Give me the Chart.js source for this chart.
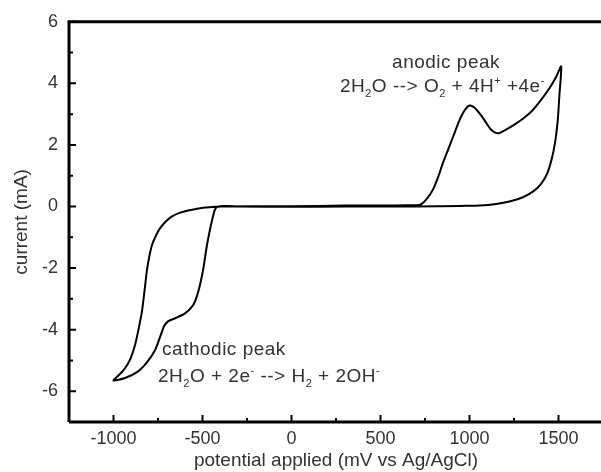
<!DOCTYPE html>
<html>
<head>
<meta charset="utf-8">
<script src="https://cdn.jsdelivr.net/npm/chart.js@4"></script>
<style>
  html, body { margin: 0; padding: 0; background: #fff; overflow: hidden; }
  #wrap { width: 620px; height: 472px; }
</style>
</head>
<body>
<div id="wrap"><canvas id="cvChart"></canvas></div>
<script>
// Cyclic voltammogram, potential (mV vs Ag/AgCl) and current (mA), traced along the loop
const potential = [
  -400, 0, 300, 500, 650, 700, 730, 760, 790, 820, 850, 880, 910, 940, 965, 990, 1005,
  1030, 1060, 1090, 1120, 1145, 1165, 1200, 1250, 1300, 1350, 1400, 1450, 1490, 1515,
  1505, 1495, 1480, 1460, 1435, 1400, 1360, 1300, 1230, 1150, 1060, 950, 700, 300, 0, -300, -420,
  -447, -475, -497, -525, -553, -598, -654, -694, -716, -739, -767, -812, -868, -935, -1000,
  -965, -935, -905, -879, -858, -840, -825, -812, -798, -784, -762, -739, -705, -671, -625, -581, -530, -486, -430, -400
];
const current = [
  0, 0.01, 0.03, 0.03, 0.04, 0.04, 0.08, 0.25, 0.5, 0.9, 1.4, 1.85, 2.3, 2.75, 3.05, 3.25, 3.28,
  3.2, 3.0, 2.75, 2.5, 2.4, 2.38, 2.48, 2.65, 2.85, 3.1, 3.45, 3.85, 4.25, 4.55,
  3.6, 2.75, 2.05, 1.5, 1.05, 0.72, 0.5, 0.3, 0.17, 0.08, 0.03, 0.02, 0.0, 0.0, -0.01, 0, -0.02,
  -0.47, -1.26, -2.07, -2.79, -3.21, -3.47, -3.63, -3.73, -3.89, -4.25, -4.67, -5.06, -5.38, -5.57, -5.65,
  -5.45, -5.25, -4.95, -4.5, -3.95, -3.4, -2.7, -2.07, -1.6, -1.26, -0.95, -0.71, -0.48, -0.32, -0.2, -0.13, -0.07, -0.03, -0.01, 0
];

// Axis ticks
const xMajor = [-1000, -500, 0, 500, 1000, 1500];
const xMinor = [-750, -250, 250, 750, 1250];
const yMajor = [-6, -4, -2, 0, 2, 4, 6];
const yMinor = [-5, -3, -1, 1, 3, 5];

const points = potential.map((v, i) => ({ x: v, y: current[i] }));

const textColor = "#333";
const fontFamily = "'Liberation Sans', Arial, sans-serif";

// Frame (left, top, bottom) with inward ticks
const framePlugin = {
  id: "frame",
  afterDraw(chart) {
    const { ctx, chartArea: a, scales } = chart;
    ctx.save();
    ctx.strokeStyle = "#000";
    ctx.lineWidth = 3;
    ctx.beginPath();
    ctx.moveTo(a.left, a.bottom);
    ctx.lineTo(a.left, a.top);
    ctx.lineTo(a.right + 20, a.top);
    ctx.moveTo(a.left, a.bottom);
    ctx.lineTo(a.right + 20, a.bottom);
    ctx.stroke();

    ctx.lineWidth = 2;
    ctx.beginPath();
    xMajor.forEach(v => {
      const px = scales.x.getPixelForValue(v);
      ctx.moveTo(px, a.bottom);
      ctx.lineTo(px, a.bottom - 7);
    });
    xMinor.forEach(v => {
      const px = scales.x.getPixelForValue(v);
      ctx.moveTo(px, a.bottom);
      ctx.lineTo(px, a.bottom - 4);
    });
    yMajor.forEach(v => {
      const py = scales.y.getPixelForValue(v);
      ctx.moveTo(a.left, py);
      ctx.lineTo(a.left + 7, py);
    });
    yMinor.forEach(v => {
      const py = scales.y.getPixelForValue(v);
      ctx.moveTo(a.left, py);
      ctx.lineTo(a.left + 4, py);
    });
    ctx.stroke();
    ctx.restore();
  }
};

// Annotations with sub/superscripts, baseline anchored in data coordinates
const notes = [
  { x: 565, y: 4.5, parts: [["anodic peak"]] },
  { x: 272, y: 3.73, parts: [["2H"], ["2", "sub"], ["O --> O"], ["2", "sub"], [" + 4H"], ["+", "sup"], [" +4e"], ["-", "sup"]] },
  { x: -727, y: -4.83, parts: [["cathodic peak"]] },
  { x: -750, y: -5.7, parts: [["2H"], ["2", "sub"], ["O + 2e"], ["-", "sup"], [" --> H"], ["2", "sub"], [" + 2OH"], ["-", "sup"]] }
];

const notesPlugin = {
  id: "notes",
  afterDatasetsDraw(chart) {
    const { ctx, scales } = chart;
    ctx.save();
    ctx.fillStyle = textColor;
    ctx.textBaseline = "alphabetic";
    ctx.letterSpacing = "0.5px";
    notes.forEach(n => {
      let px = scales.x.getPixelForValue(n.x);
      const py = scales.y.getPixelForValue(n.y);
      n.parts.forEach(([t, kind]) => {
        let dy = 0;
        if (kind) {
          ctx.font = "11px " + fontFamily;
          dy = kind === "sub" ? 5 : -8;
        } else {
          ctx.font = "19px " + fontFamily;
        }
        ctx.fillText(t, px, py + dy);
        px += ctx.measureText(t).width;
      });
    });
    ctx.restore();
  }
};

const ctx = document.getElementById("cvChart").getContext("2d");
const cvChart = new Chart(ctx, {
  type: "scatter",
  data: {
    datasets: [
      {
        data: points,
        showLine: true,
        borderColor: "#000",
        borderWidth: 2,
        pointRadius: 0,
        tension: 0.25,
        fill: false,
      },
    ],
  },
  options: {
    responsive: true,
    maintainAspectRatio: false,
    animation: false,
    layout: { padding: { top: 21, right: 17, left: 0, bottom: 0 } },
    plugins: {
      legend: { display: false },
      tooltip: { enabled: false },
    },
    scales: {
      x: {
        type: "linear",
        min: -1250,
        max: 1750,
        afterBuildTicks: scale => { scale.ticks = xMajor.map(v => ({ value: v })); },
        afterFit: scale => { scale.height = 50; },
        grid: { display: false, drawTicks: false },
        border: { display: false },
        ticks: {
          color: textColor,
          padding: 6,
          callback: v => String(v),
          font: { family: fontFamily, size: 18 },
        },
        title: {
          display: true,
          text: "potential applied (mV vs Ag/AgCl)",
          color: textColor,
          padding: { top: 0, bottom: 0 },
          font: { family: fontFamily, size: 19 },
        },
      },
      y: {
        type: "linear",
        min: -7,
        max: 6,
        afterBuildTicks: scale => { scale.ticks = yMajor.map(v => ({ value: v })); },
        afterFit: scale => { scale.width = 69; },
        grid: { display: false, drawTicks: false },
        border: { display: false },
        ticks: {
          color: textColor,
          padding: 11,
          callback: v => String(v),
          font: { family: fontFamily, size: 18 },
        },
        title: {
          display: true,
          text: "current (mA)",
          color: textColor,
          padding: { top: 10, bottom: 0 },
          font: { family: fontFamily, size: 19 },
        },
      },
    },
  },
  plugins: [framePlugin, notesPlugin],
});
</script>
</body>
</html>
